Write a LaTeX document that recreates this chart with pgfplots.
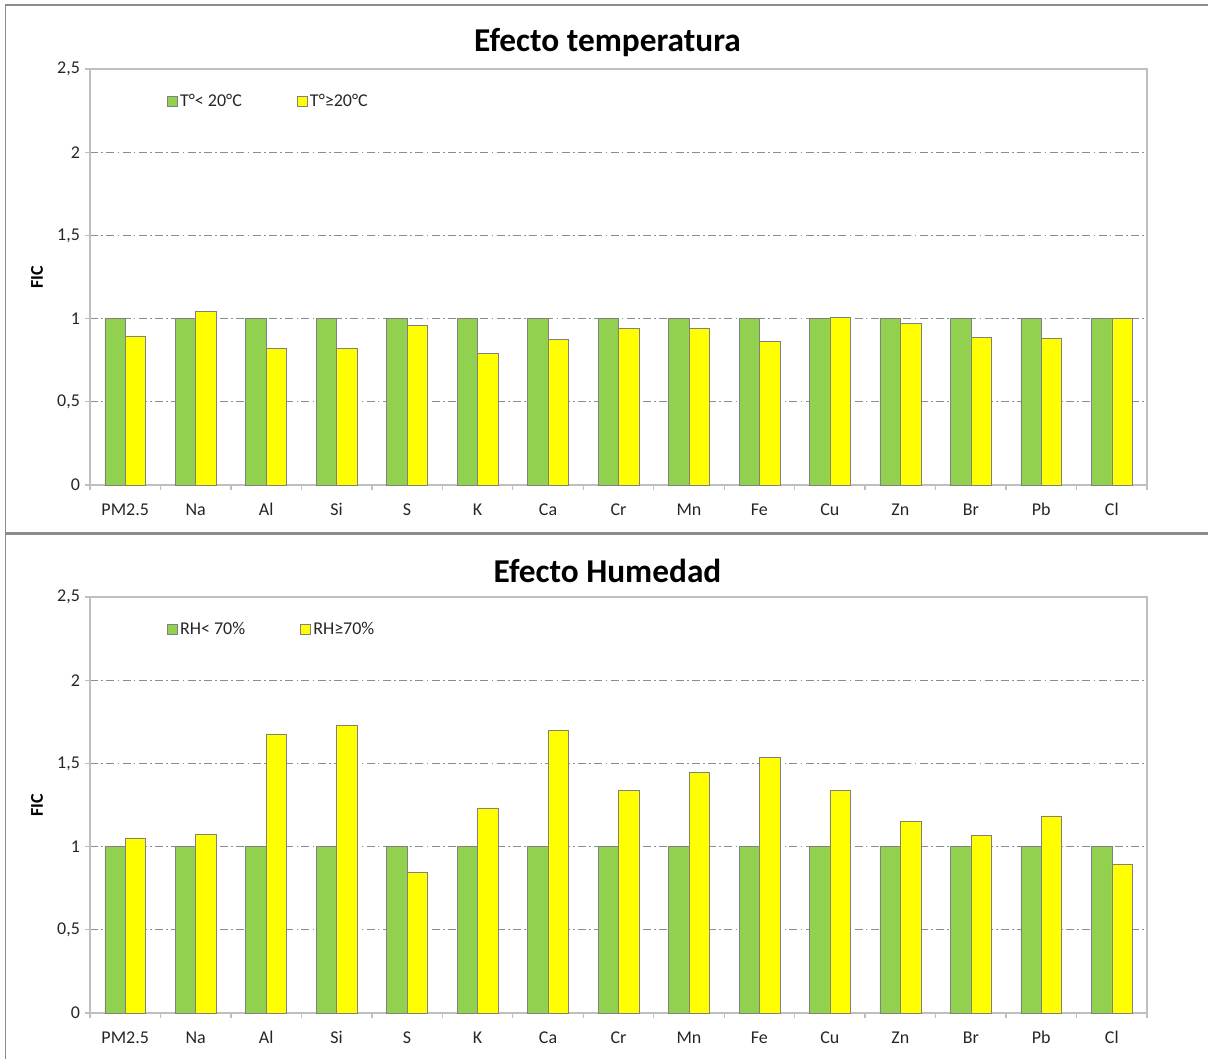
\documentclass[border=0pt]{standalone}
\usepackage{fontspec}
\setmainfont{Carlito}
\usepackage{pgfplots}
\pgfplotsset{compat=1.18}

\definecolor{barGreen}{HTML}{92D050}
\definecolor{barYellow}{HTML}{FFFF00}
\definecolor{barEdge}{HTML}{808080}
\definecolor{axisGray}{HTML}{BFBFBF}
\definecolor{gridGray}{HTML}{8C8C8C}
\definecolor{frameGray}{HTML}{8C8C8C}
\definecolor{labelText}{HTML}{262626}

\pgfplotsset{
  sq legend/.style={legend image code/.code={%
      \draw[##1, line width=0.6pt] (0pt,-3.75pt) rectangle (7.5pt,3.75pt);}},
  fic panel/.style={
    scale only axis, width=792.75pt, height=312pt,
    ybar=0pt, bar width=0.29,
    xmin=-0.5, xmax=14.5, ymin=0, ymax=2.5,
    xtick={0,...,14},
    xticklabels={PM2.5,Na,Al,Si,S,K,Ca,Cr,Mn,Fe,Cu,Zn,Br,Pb,Cl},
    xtick style={draw=none},
    extra x ticks={-0.5,0.5,...,14.5},
    extra x tick labels={},
    extra x tick style={xtick style={draw=axisGray, line width=1pt}},
    ytick={0,0.5,...,2.5},
    ytick style={draw=axisGray, line width=1pt},
    xtick pos=bottom, ytick pos=left,
    tick align=outside,
    major tick length=4pt,
    ymajorgrids,
    grid style={gridGray, line width=0.6pt,
      dash pattern=on 6pt off 2.5pt on 1.2pt off 2.5pt},
    axis line style={axisGray, line width=1pt},
    /pgf/number format/use comma,
    /pgf/number format/assume math mode=true,
    tick label style={font=\fontsize{13.5}{16}\selectfont, text=labelText},
    xticklabel style={anchor=base, yshift=-18.75pt},
    every axis title/.style={at={(0.5,1)}, anchor=center,
      xshift=-8.25pt, yshift=19.5pt,
      font=\fontsize{25}{29}\selectfont\bfseries},
    ylabel={FIC},
    every axis y label/.style={at={(axis description cs:-0.0501,0.5)},
      rotate=90, anchor=center, font=\fontsize{13.5}{16}\selectfont\bfseries},
    legend columns=2,
    legend cell align=left,
    legend style={at={(0.0728,0.923)}, anchor=west, draw=none, fill=none,
      inner sep=0pt, font=\fontsize{13.5}{16}\selectfont, text=labelText,
      nodes={inner sep=1.5pt},
      /tikz/every even column/.append style={column sep=40pt}},
  },
}

\begin{document}
\begin{tikzpicture}
\useasboundingbox (0,0) rectangle (906pt,-794.25pt);

% panel frames
\draw[frameGray, line width=1.5pt] (4pt,-4pt) -- (912pt,-4pt);
\draw[frameGray, line width=1.2pt] (4pt,-4pt) -- (4pt,-800pt);
\draw[frameGray, line width=2.25pt] (4pt,-399.75pt) -- (912pt,-399.75pt);

% temperature effect
\begin{axis}[fic panel, at={(67.5pt,-363.75pt)}, anchor=south west,
  title={Efecto temperatura}]
\addplot[fill=barGreen, draw=barEdge, sq legend] coordinates {
  (0,1) (1,1) (2,1) (3,1) (4,1) (5,1) (6,1) (7,1)
  (8,1) (9,1) (10,1) (11,1) (12,1) (13,1) (14,1)};
\addplot[fill=barYellow, draw=barEdge, sq legend] coordinates {
  (0,0.896) (1,1.045) (2,0.822) (3,0.822) (4,0.960) (5,0.790) (6,0.875)
  (7,0.943) (8,0.943) (9,0.862) (10,1.008) (11,0.970) (12,0.889)
  (13,0.879) (14,1.004)};
\legend{T°< 20°C, T°≥20°C}
\end{axis}

% humidity effect
\begin{axis}[fic panel, at={(67.5pt,-759.75pt)}, anchor=south west,
  title={Efecto Humedad}]
\addplot[fill=barGreen, draw=barEdge, sq legend] coordinates {
  (0,1) (1,1) (2,1) (3,1) (4,1) (5,1) (6,1) (7,1)
  (8,1) (9,1) (10,1) (11,1) (12,1) (13,1) (14,1)};
\addplot[fill=barYellow, draw=barEdge, sq legend] coordinates {
  (0,1.052) (1,1.072) (2,1.677) (3,1.732) (4,0.843) (5,1.233) (6,1.698)
  (7,1.338) (8,1.446) (9,1.537) (10,1.338) (11,1.154) (12,1.068)
  (13,1.184) (14,0.892)};
\legend{RH< 70\%, RH≥70\%}
\end{axis}
\end{tikzpicture}
\end{document}
